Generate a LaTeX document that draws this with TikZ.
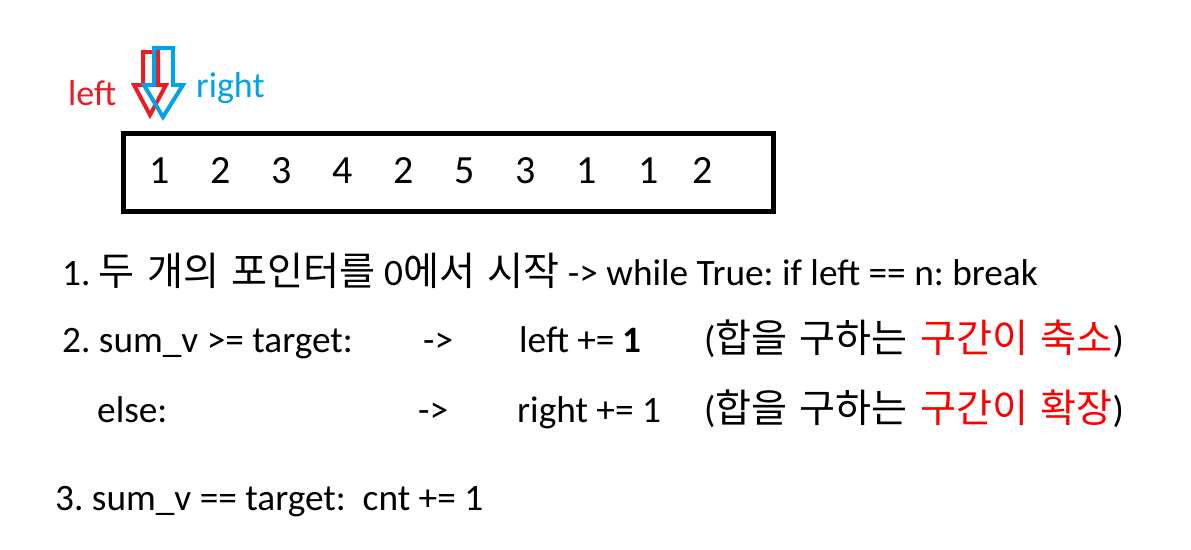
\documentclass[tikz,border=0pt]{standalone}
\usepackage{fontspec}
\setmainfont{Carlito}
\newfontfamily\krfont[Scale=1.05,WordSpace=1.4]{Noto Sans CJK KR}
\definecolor{pred}{HTML}{ED1C24}
\definecolor{pblue}{HTML}{00A2E8}
\definecolor{kred}{HTML}{FF0000}
\newcommand{\K}[1]{{\krfont #1}}
\frenchspacing
\begin{document}
\begin{tikzpicture}[x=1pt,y=-1pt,
  txt/.style={anchor=base west,inner sep=0pt,font=\fontsize{37.3}{42}\selectfont},
  num/.style={anchor=base,inner sep=0pt,font=\fontsize{40}{44}\selectfont},
  lbl/.style={anchor=base west,inner sep=0pt,font=\fontsize{36}{40}\selectfont},
  hollow/.style={line width=4pt,line join=miter}]
\useasboundingbox (0,0) rectangle (1191,549);
% array box
\node[draw,line width=5pt,minimum width=650pt,minimum height=78pt,inner sep=0pt,anchor=north west] (arr) at (120.5,130.5) {};
\foreach \v/\x [count=\i] in {1/160,2/221,3/282,4/343,2/404,5/465,3/526,1/587,1/649,2/703}
  \node[num] (n\i) at (\x,183) {\v};
% pointer labels
\node[lbl,text=pred] (lleft) at (68,105) {left};
\node[lbl,text=pblue] (lright) at (196,97) {right};
% hollow arrows
\draw[hollow,pred] (143,52) -- (158,52) -- (158,85) -- (166,85) -- (150,115) -- (134,85) -- (143,85) -- cycle;
\draw[hollow,pblue] (154,48) -- (173,48) -- (173,85) -- (183,85) -- (163,117) -- (144,85) -- (154,85) -- cycle;
% explanation lines
\node[txt] (l1) at (62,285) {1. \K{두 개의 포인터를} 0\K{에서 시작} -> while True: if left == n: break};
\node[txt] (l2a) at (62,352) {2. sum\_v >= target:};
\node[txt] (l2b) at (423,352) {->};
\node[txt] (l2c) at (519,352) {left += \textbf{1}};
\node[txt] (l2d) at (704,352) {(\K{합을 구하는 }\textcolor{kred}{\K{구간이 축소}})};
\node[txt] (l3a) at (97,422) {else:};
\node[txt] (l3b) at (418,422) {->};
\node[txt] (l3c) at (517,422) {right += 1};
\node[txt] (l3d) at (704,422) {(\K{합을 구하는 }\textcolor{kred}{\K{구간이 확장}})};
\node[txt] (l4) at (55,510) {3. sum\_v == target:~ cnt += 1};
\end{tikzpicture}
\end{document}
